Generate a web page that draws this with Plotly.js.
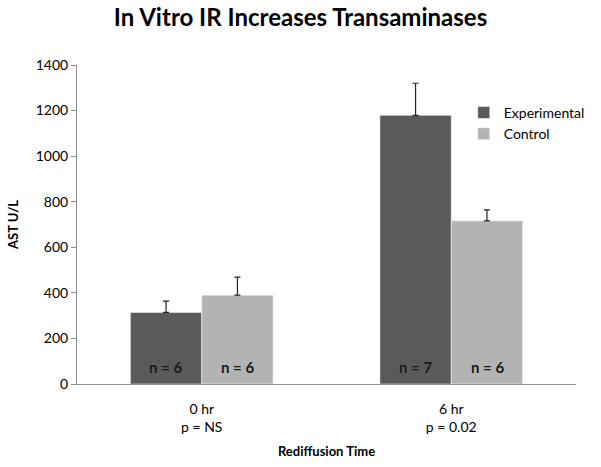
<!DOCTYPE html>
<html>
<head>
<meta charset="utf-8">
<script src="https://cdn.plot.ly/plotly-3.0.1.min.js"></script>
<style>html,body{margin:0;padding:0;background:#fff;}#chart{width:601px;height:467px;}</style>
</head>
<body>
<div id="chart"></div>
<script>
const categories = ["0 hr<br>p = NS", "6 hr<br>p = 0.02"];
const expValues = [314, 1179];
const expErrors = [50, 141];
const expN = ["n = 6", "n = 7"];
const ctrlValues = [390, 716];
const ctrlErrors = [79, 48];
const ctrlN = ["n = 6", "n = 6"];

const font = "Lato, 'Open Sans', sans-serif";

function barTrace(name, vals, errs, color) {
  return {
    type: 'bar', name: name, x: categories, y: vals,
    marker: {color: color, line: {color: 'rgba(255,255,255,0.5)', width: 1}},
    error_y: {type: 'data', symmetric: false, array: errs, arrayminus: vals.map(() => 0),
              color: '#222', thickness: 1.2, width: 3},
    hoverinfo: 'none'
  };
}

const data = [
  barTrace('Experimental', expValues, expErrors, '#5a5a5a'),
  barTrace('Control', ctrlValues, ctrlErrors, '#b3b3b3')
];

const annotations = [];
categories.forEach((c, i) => {
  [[expN, -36], [ctrlN, 36]].forEach(([labels, shift]) => {
    annotations.push({x: c, y: 0, xref: 'x', yref: 'y', yanchor: 'bottom', yshift: 6,
      xshift: shift, text: '<b>' + labels[i] + '</b>', showarrow: false,
      font: {family: font, size: 15, color: '#1a1a1a'}});
  });
});

const layout = {
  width: 601, height: 467,
  margin: {l: 77, r: 25, t: 65, b: 83, autoexpand: false},
  paper_bgcolor: '#fff', plot_bgcolor: '#fff',
  barmode: 'group', bargap: 0.428, bargroupgap: 0,
  title: {text: '<b>In Vitro IR Increases Transaminases</b>', x: 0.5, xref: 'container',
          y: 0.962, yref: 'container', yanchor: 'middle',
          font: {family: font, size: 24, color: '#000'}},
  font: {family: font, size: 13, color: '#000'},
  annotations: annotations,
  xaxis: {
    title: {text: '<b>Rediffusion Time</b>', font: {family: font, size: 13, color: '#000'}, standoff: 12},
    showline: true, linecolor: '#8c8c8c', linewidth: 1,
    ticks: '', ticklabelstandoff: 12, tickfont: {family: font, size: 14, color: '#000'},
    showgrid: false, zeroline: false, automargin: false
  },
  yaxis: {
    title: {text: '<b>AST U/L</b>', font: {family: font, size: 13, color: '#000'}, standoff: 14},
    range: [0, 1400], dtick: 200, tick0: 0,
    showline: true, linecolor: '#8c8c8c', linewidth: 1,
    ticks: 'outside', ticklen: 5, tickcolor: '#8c8c8c',
    tickfont: {family: font, size: 14, color: '#000'},
    showgrid: false, zeroline: false, automargin: false
  },
  legend: {x: 0.775, y: 0.9, xanchor: 'left', yanchor: 'top',
           font: {family: font, size: 14, color: '#000'},
           bgcolor: 'rgba(0,0,0,0)', itemwidth: 30, tracegroupgap: 6},
  showlegend: true
};

Plotly.newPlot('chart', data, layout, {staticPlot: true, displayModeBar: false});
</script>
</body>
</html>
